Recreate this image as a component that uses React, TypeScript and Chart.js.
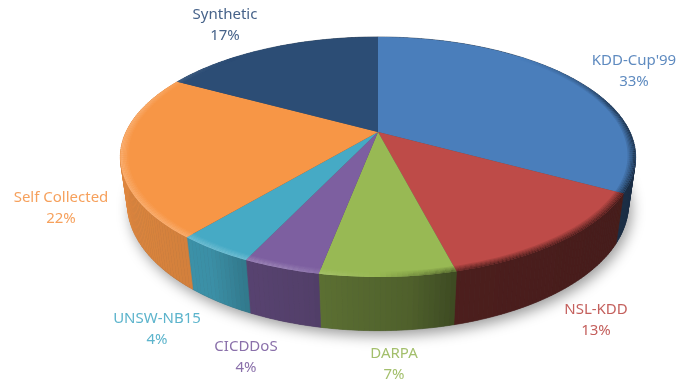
import React, { useEffect, useRef } from "react";
import { Chart, registerables } from "chart.js";

Chart.register(...registerables);

const categories = ["KDD-Cup'99", "NSL-KDD", "DARPA", "CICDDoS", "UNSW-NB15", "Self Collected", "Synthetic"];
const shares = [33, 13, 7, 4, 4, 22, 17];
const sliceColors = ["#4a7ebb", "#be4b48", "#98b954", "#7d5fa0", "#46aac5", "#f79646", "#2c4d75"];
const labelColors = ["#5f8bc0", "#c4605d", "#a3bf6c", "#8a70aa", "#5cb4cc", "#f6a15d", "#47638a"];
const labelCentres = [
  [634, 61], [596, 310], [394, 354], [246, 347], [157, 319], [61, 198], [225, 15],
];

// Perspective disc: the unit circle of each arc is projected onto the canvas.
const APEX_X = 378;
const APEX_Y = 132;
const RADIUS_X = 252;
const RADIUS_Y = 114.8;
const TILT = 0.208;
const BASE_DEPTH = 0.0275;
const BASE_DROP = 48;
const STEP = Math.PI / 180;

type Pt = [number, number];

const topPoint = (a: number, r = 1): Pt => {
  const u = Math.cos(a) * r;
  const v = Math.sin(a) * r;
  const w = 1 - TILT * v;
  return [APEX_X + (RADIUS_X * u) / w, APEX_Y + (RADIUS_Y * v) / w];
};

const basePoint = (a: number): Pt => {
  const u = Math.cos(a);
  const v = Math.sin(a);
  const w = 1 - TILT * v + BASE_DEPTH;
  return [APEX_X + (RADIUS_X * u) / w, APEX_Y + (RADIUS_Y * v + BASE_DROP) / w];
};

const hexToRgb = (hex: string): number[] => [
  parseInt(hex.slice(1, 3), 16),
  parseInt(hex.slice(3, 5), 16),
  parseInt(hex.slice(5, 7), 16),
];

const css = (c: number[]) => `rgb(${c.map((x) => Math.round(x)).join(",")})`;

const mix = (c: number[], target: number, amount: number) =>
  c.map((x) => x + (target - x) * amount);

// Wall brightness falls from the lit left side to the dark right side.
const wallStops: Pt[] = [[-1, 0.9], [-0.55, 0.84], [-0.42, 0.7], [-0.2, 0.66], [-0.18, 0.6], [0.1, 0.52], [0.25, 0.4], [1, 0.36]];
const wallShade = (u: number): number => {
  for (let i = 1; i < wallStops.length; i++) {
    const [x0, y0] = wallStops[i - 1];
    const [x1, y1] = wallStops[i];
    if (u <= x1) return y0 + ((y1 - y0) * (u - x0)) / (x1 - x0);
  }
  return 0.36;
};

// Positive values lighten the bevel, negative ones darken it.
const bevelAmount = (a: number): number => {
  const u = Math.cos(a);
  const v = Math.sin(a);
  const fade = Math.min(1, Math.max(0, (v + 0.75) / 0.5));
  return fade * (u > 0 ? -0.6 * Math.min(1, u / 0.3) : 0.24 * Math.min(1, -u / 0.3));
};

const fillQuad = (ctx: CanvasRenderingContext2D, p: Pt[], color: string) => {
  ctx.fillStyle = color;
  ctx.strokeStyle = color;
  ctx.lineWidth = 0.6;
  ctx.beginPath();
  p.forEach(([x, y], i) => (i ? ctx.lineTo(x, y) : ctx.moveTo(x, y)));
  ctx.closePath();
  ctx.fill();
  ctx.stroke();
};

const disc3d = {
  id: "disc3d",
  beforeDatasetDraw(chart: any) {
    const ctx: CanvasRenderingContext2D = chart.ctx;
    const arcs = chart.getDatasetMeta(0).data;

    ctx.save();
    // Soft ground shadow under the base outline.
    ctx.shadowColor = "rgba(0,0,0,0.4)";
    ctx.shadowBlur = 14;
    ctx.shadowOffsetX = 3;
    ctx.shadowOffsetY = 5;
    ctx.fillStyle = "#555";
    ctx.beginPath();
    for (let a = 0; a < Math.PI * 2; a += STEP) {
      const [x, y] = basePoint(a);
      if (a === 0) ctx.moveTo(x, y);
      else ctx.lineTo(x, y);
    }
    ctx.closePath();
    ctx.fill();
    ctx.restore();

    // Side walls.
    arcs.forEach((arc: any) => {
      const { startAngle, endAngle } = arc.getProps(["startAngle", "endAngle"], true);
      const base = hexToRgb(arc.options.backgroundColor);
      for (let a = startAngle; a < endAngle; a += STEP) {
        const b = Math.min(a + STEP, endAngle);
        const shade = wallShade(Math.cos((a + b) / 2));
        fillQuad(ctx, [topPoint(a), topPoint(b), basePoint(b), basePoint(a)], css(base.map((x) => x * shade)));
      }
    });

    // Top faces.
    arcs.forEach((arc: any) => {
      const { startAngle, endAngle } = arc.getProps(["startAngle", "endAngle"], true);
      const pts: Pt[] = [[APEX_X, APEX_Y]];
      for (let a = startAngle; a < endAngle; a += STEP) pts.push(topPoint(a));
      pts.push(topPoint(endAngle));
      ctx.fillStyle = arc.options.backgroundColor;
      ctx.beginPath();
      pts.forEach(([x, y], i) => (i ? ctx.lineTo(x, y) : ctx.moveTo(x, y)));
      ctx.closePath();
      ctx.fill();
    });

    // Bevelled rim along the outer edge.
    const rings = 6;
    const rimWidth = 0.03;
    arcs.forEach((arc: any) => {
      const { startAngle, endAngle } = arc.getProps(["startAngle", "endAngle"], true);
      const base = hexToRgb(arc.options.backgroundColor);
      for (let a = startAngle; a < endAngle; a += STEP) {
        const b = Math.min(a + STEP, endAngle);
        const amount = bevelAmount((a + b) / 2);
        if (amount === 0) continue;
        for (let k = 0; k < rings; k++) {
          const inner = 1 - (rimWidth * (rings - k)) / rings;
          const outer = 1 - (rimWidth * (rings - k - 1)) / rings;
          const t = Math.abs(amount) * ((k + 1) / rings);
          const color = mix(base, amount > 0 ? 255 : 0, t);
          ctx.fillStyle = css(color);
          ctx.beginPath();
          const q = [topPoint(a, inner), topPoint(b, inner), topPoint(b, outer), topPoint(a, outer)];
          q.forEach(([x, y], i) => (i ? ctx.lineTo(x, y) : ctx.moveTo(x, y)));
          ctx.closePath();
          ctx.fill();
        }
      }
    });
    return false;
  },
  afterDatasetsDraw(chart: any) {
    const ctx: CanvasRenderingContext2D = chart.ctx;
    const values: number[] = chart.data.datasets[0].data;
    const names: string[] = chart.data.labels;
    ctx.save();
    ctx.font = "15px 'Noto Sans'";
    ctx.textAlign = "center";
    ctx.textBaseline = "middle";
    names.forEach((name, i) => {
      const [x, y] = labelCentres[i];
      ctx.fillStyle = labelColors[i];
      ctx.fillText(name, x, y);
      ctx.fillText(`${values[i]}%`, x, y + 21);
    });
    ctx.restore();
  },
};

export default function App() {
  const canvasRef = useRef<HTMLCanvasElement>(null);

  useEffect(() => {
    const chart = new Chart(canvasRef.current!, {
      type: "pie",
      data: {
        labels: categories,
        datasets: [{ data: shares, backgroundColor: sliceColors, borderWidth: 0 }],
      },
      options: {
        responsive: false,
        animation: false,
        plugins: { legend: { display: false }, tooltip: { enabled: false } },
      },
      plugins: [disc3d],
    } as any);
    return () => chart.destroy();
  }, []);

  return (
    <div style={{ position: "fixed", left: 0, top: 0, width: 678, height: 385, background: "#fff" }}>
      <canvas ref={canvasRef} width={678} height={385} style={{ display: "block" }} />
    </div>
  );
}
